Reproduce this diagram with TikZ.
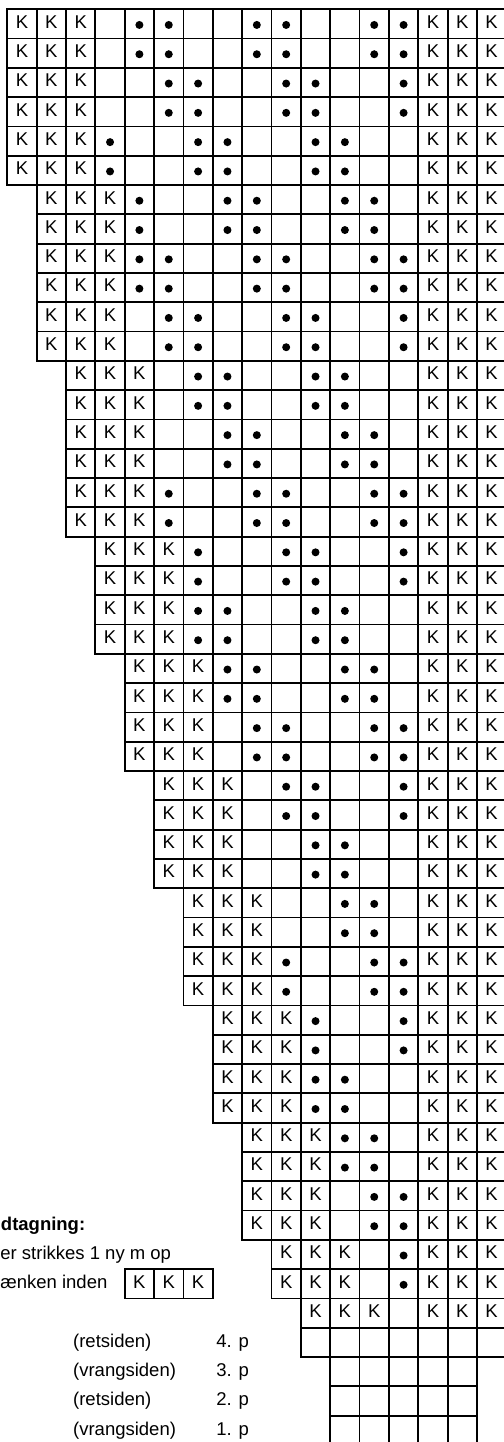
\documentclass[tikz,border=0pt]{standalone}
\usepackage{fontspec}
\setmainfont{Liberation Sans}
\usetikzlibrary{positioning}

\begin{document}
\begin{tikzpicture}[x=14.678pt, y=-14.65pt,
    font=\fontsize{9.25}{11}\selectfont,
    maske/.style={rectangle, draw, line width=0.9pt, minimum width=14.678pt,
      minimum height=14.65pt, inner sep=0pt, outer sep=0pt,
      text height=6.6pt, text depth=2.3pt},
    prik/.style={circle, fill, inner sep=0pt, minimum size=4pt},
    tekst/.style={anchor=west, inner sep=0pt, text height=6.8pt,
      text depth=1.9pt}]
  \useasboundingbox (-0.2487,-0.3174) rectangle (16.92,48.90);
  \clip (-0.2487,-0.3174) rectangle (16.92,48.90);
  % mønster: par/startmaske/prikker, hver raekke strikkes to gange
  \foreach \p/\s/\dl in {0/0/{4,5,8,9,12,13}, 1/0/{5,6,9,10,13},
      2/0/{3,6,7,10,11}, 3/1/{4,7,8,11,12}, 4/1/{4,5,8,9,12,13},
      5/1/{5,6,9,10,13}, 6/2/{6,7,10,11}, 7/2/{7,8,11,12},
      8/2/{5,8,9,12,13}, 9/3/{6,9,10,13}, 10/3/{6,7,10,11},
      11/4/{7,8,11,12}, 12/4/{8,9,12,13}, 13/5/{9,10,13},
      14/5/{10,11}, 15/6/{11,12}, 16/6/{9,12,13}, 17/7/{10,13},
      18/7/{10,11}, 19/8/{11,12}, 20/8/{12,13}, 21/9/{13}} {
    \foreach \h in {0,1} {
      \pgfmathtruncatemacro{\r}{2*\p+\h}
      \foreach \c in {\s,...,16} {
        \pgfmathtruncatemacro{\erk}{(\c<\s+3)||(\c>13)}
        \ifnum\erk=1 \def\t{K}\else\def\t{}\fi
        \node[maske] (m-\r-\c) at (\c+0.5,\r+0.5) {\t};
      }
      \foreach \d in \dl
        \node[prik] (p-\r-\d) at ([yshift=-0.5pt]m-\r-\d.center) {};
    }
  }
  \foreach \c/\t in {10/K,11/K,12/K,13/,14/K,15/K,16/K}
    \node[maske] (m-44-\c) at (\c+0.5,44.5) {\t};
  \foreach \c in {10,...,16}
    \node[maske] (m-45-\c) at (\c+0.5,45.5) {};
  \foreach \r in {46,47,48}
    \foreach \c in {11,...,15}
      \node[maske] (m-\r-\c) at (\c+0.5,\r+0.5) {};
  \node[tekst, font=\fontsize{9.25}{11}\selectfont\bfseries] (titel)
    at (-0.23,41.5) {dtagning:};
  \node[tekst] (linje1) at (-0.2487,42.5) {er strikkes 1 ny m op};
  \node[tekst] (linje2) at (-0.2487,43.5) {ænken inden};
  \node[maske] (lk1) at (4.5,43.5) {K};
  \node[maske, right=0pt of lk1] (lk2) {K};
  \node[maske, right=0pt of lk2] (lk3) {K};
  \foreach \n/\side [count=\i from 0] in {4/retsiden,3/vrangsiden,
      2/retsiden,1/vrangsiden} {
    \node[tekst] (side\n) at (2.23,45.5+\i) {(\side)};
    \node[tekst] (pind\n) at (7.11,45.5+\i) {\n. p};
  }
\end{tikzpicture}
\end{document}
